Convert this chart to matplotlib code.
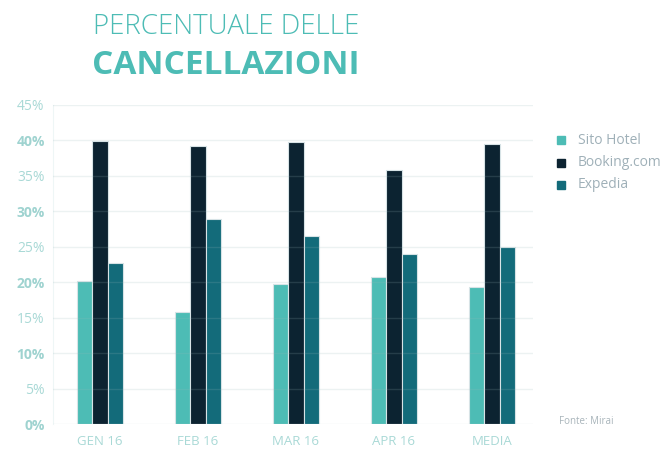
import matplotlib
matplotlib.use("Agg")
import matplotlib.pyplot as plt
from matplotlib import font_manager
import numpy as np

# data
categories = ["GEN 16", "FEB 16", "MAR 16", "APR 16", "MEDIA"]
sito_hotel = [20.2, 15.8, 19.7, 20.7, 19.3]
booking = [39.9, 39.2, 39.7, 35.8, 39.4]
expedia = [22.7, 28.9, 26.5, 23.9, 24.9]
series_names = ["Sito Hotel", "Booking.com", "Expedia"]
y_ticks = [0, 5, 10, 15, 20, 25, 30, 35, 40, 45]

COLORS = ["#4dbcb5", "#0c2331", "#136b7a"]
TEAL = "#4dbcb5"
TICK_COL = "#a9d9d6"
GRID_COL = "#eef6f6"
FONT = "Open Sans"

# pick a light, normal-width face for the thin title line, if one is installed
light_font = None
for fam in ["Open Sans", "Lato", "Roboto", "Noto Sans", "Inter"]:
    for f in font_manager.fontManager.ttflist:
        w = f.weight if isinstance(f.weight, int) else 400
        if (f.name == fam and w <= 300 and f.style == "normal"
                and f.stretch == "normal" and "ondensed" not in f.fname):
            light_font = f.fname
            break
    if light_font:
        break

fig = plt.figure(figsize=(6.72, 4.5), dpi=100)
ax = fig.add_axes([53 / 672, 1 - 424 / 450, 480 / 672, (424 - 104.7) / 450])

x = np.arange(len(categories))
w = 0.158
for i, vals in enumerate([sito_hotel, booking, expedia]):
    ax.bar(x + (i - 1) * w, vals, width=w, color=COLORS[i],
           edgecolor="#d7e3e6", linewidth=0.8, label=series_names[i], zorder=2)

ax.set_ylim(0, 45)
ax.set_xlim(-0.48, 4.42)
ax.set_yticks(y_ticks)
ax.set_yticklabels([f"{t}%" for t in y_ticks])
for t, lab in zip(y_ticks, ax.get_yticklabels()):
    lab.set_fontfamily(FONT)
    lab.set_fontsize(10)
    lab.set_color(TICK_COL if t % 10 else "#9fd3d0")
    lab.set_fontweight("normal" if t % 10 else "bold")
ax.set_xticks(x)
ax.set_xticklabels(categories, fontfamily=FONT, fontsize=9.5, color=TICK_COL)
ax.tick_params(length=0, pad=8)
ax.tick_params(axis="y", pad=6)

# faint grid over the bars, like the reference
ax.grid(axis="y", color="#9ab7ba", alpha=0.18, linewidth=1, zorder=3)
for s in ["top", "right", "bottom"]:
    ax.spines[s].set_visible(False)
ax.spines["left"].set_color(GRID_COL)
ax.set_axisbelow(False)

# legend
leg_y = [140, 163, 185]
for name, col, yy in zip(series_names, COLORS, leg_y):
    fig.patches.append(plt.Rectangle((557 / 672, 1 - (yy + 4) / 450), 8 / 672, 8 / 450,
                                     transform=fig.transFigure, color=col))
    fig.text(578 / 672, 1 - yy / 450, name, fontfamily=FONT, fontsize=10,
             color="#9fb0b8", va="center", ha="left")

fig.text(559 / 672, 1 - 422 / 450, "Fonte: Mirai", fontfamily=FONT, fontsize=7,
         color="#a8b4ba", va="center", ha="left")

# title
if light_font:
    title_kw = dict(fontproperties=font_manager.FontProperties(fname=light_font, size=20))
else:
    title_kw = dict(fontfamily=FONT, fontweight="light", fontsize=20)
fig.text(226 / 672, 1 - 27 / 450, "PERCENTUALE DELLE", color=TEAL,
         ha="center", va="center", **title_kw)
fig.text(226 / 672, 1 - 66 / 450, "CANCELLAZIONI", fontfamily=FONT,
         fontweight="bold", fontsize=24, color=TEAL, ha="center", va="center")

fig.savefig("out.png", dpi=100)
